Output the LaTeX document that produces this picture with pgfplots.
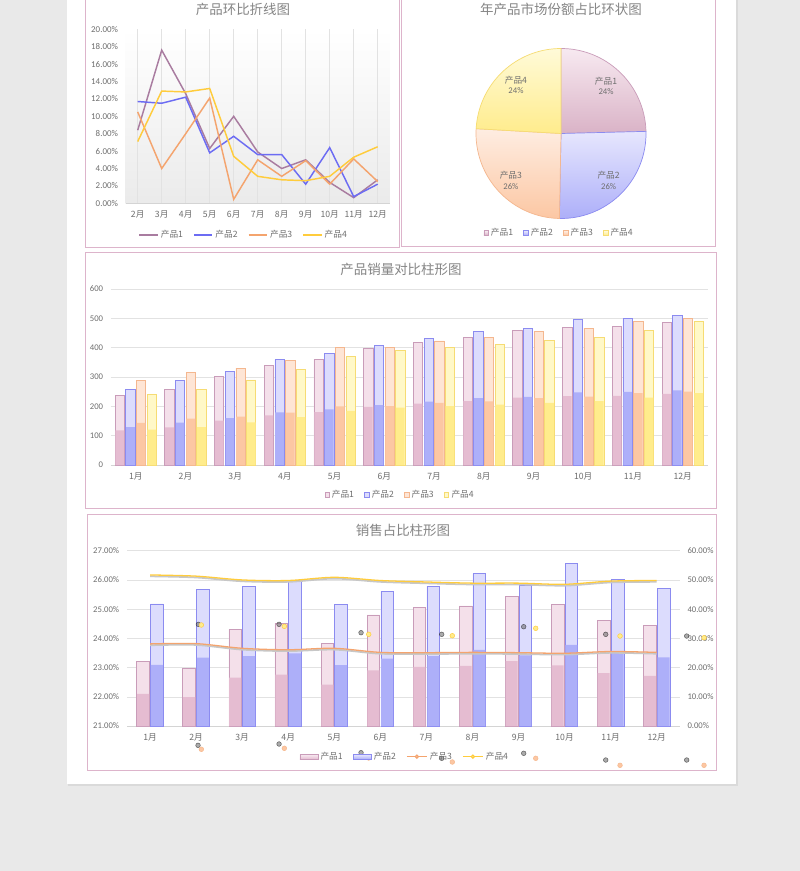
\documentclass[border=0pt]{standalone}
\usepackage{fontspec}
\setmainfont{Carlito}
\newfontfamily\cjk{Noto Sans CJK SC}
\usepackage{pgfplots}
\usepackage{pgfplotstable}
\pgfplotsset{compat=1.18}

\definecolor{pagebg}{HTML}{E9E9E9}
\definecolor{pageshadow}{HTML}{DADADA}
\definecolor{frame}{HTML}{DDB4CB}
\definecolor{titlegray}{HTML}{858585}
\definecolor{ticktext}{HTML}{6E6E6E}
\definecolor{gridgray}{HTML}{E2E2E2}
\definecolor{axisgray}{HTML}{D4D4D4}
% line colours
\definecolor{lnA}{HTML}{A97CA0}
\definecolor{lnB}{HTML}{6C6CF3}
\definecolor{lnC}{HTML}{F4A46E}
\definecolor{lnD}{HTML}{FFCC3C}
% bar / pie tones: edge, light, dark
\definecolor{edA}{HTML}{C99CB9}
\definecolor{ltA}{HTML}{F4E0EA}
\definecolor{dkA}{HTML}{E5BCD1}
\definecolor{edB}{HTML}{8B8BF0}
\definecolor{ltB}{HTML}{DCDCFD}
\definecolor{dkB}{HTML}{ADAFF9}
\definecolor{edC}{HTML}{F4B78F}
\definecolor{ltC}{HTML}{FEE5D5}
\definecolor{dkC}{HTML}{FCC7A3}
\definecolor{edD}{HTML}{F6DC73}
\definecolor{ltD}{HTML}{FFF8C8}
\definecolor{dkD}{HTML}{FFEC8C}

\newcommand\lbl{\fontsize{7.4}{8.8}\selectfont}
\newcommand\ttl{\cjk\fontsize{11.5}{13}\selectfont\color{titlegray}}

% month-on-month change, %
\pgfplotstableread{
m  p1    p2    p3    p4
2  8.4   11.7  10.5  7.1
3  17.6  11.5  4.0   12.9
4  12.6  12.2  8.0   12.8
5  6.3   5.8   12.1  13.2
6  10.0  7.7   0.46  5.4
7  5.9   5.6   5.0   3.1
8  4.0   5.6   3.1   2.7
9  5.0   2.2   4.9   2.6
10 2.4   6.4   2.2   3.1
11 0.65  0.77  5.1   5.3
12 2.7   2.2   2.5   6.5
}\ringdata

% monthly sales
\pgfplotstableread{
m  p1  p2  p3  p4
1  236 258 287 241
2  257 289 317 258
3  302 319 330 290
4  339 359 357 327
5  360 380 400 369
6  397 408 401 391
7  419 432 423 401
8  435 456 434 412
9  459 465 456 424
10 469 495 466 435
11 472 499 490 459
12 485 509 501 490
}\salesdata

% shares: p1,p2 on left axis, p3,p4 on right axis
\pgfplotstableread{
m  p1    p2    p3    p4
1  23.20 25.18 28.1  51.7
2  22.97 25.68 28.2  51.3
3  24.32 25.78 26.6  50.0
4  24.52 25.97 26.1  49.8
5  23.84 25.16 26.6  50.9
6  24.80 25.62 25.2  49.8
7  25.05 25.79 25.1  49.3
8  25.11 26.21 25.2  48.9
9  25.44 25.83 25.1  48.9
10 25.15 26.56 24.9  48.5
11 24.62 26.02 25.5  49.6
12 24.43 25.70 25.2  49.8
}\sharedata

\pgfplotsset{
  dash/.style={
    scale only axis,
    axis x line*=bottom, axis y line*=left,
    x axis line style={draw=axisgray,-},
    y axis line style={draw=none},
    major tick length=0pt,
    grid style={draw=gridgray, line width=0.5pt},
    tick label style={text=ticktext},
    xticklabel style={font=\cjk\lbl, yshift=-1.1mm},
    yticklabel style={font=\lbl, xshift=-1.1mm},
    /pgf/number format/assume math mode=true,
    legend style={draw=none, fill=none, legend columns=4,
      font=\cjk\lbl, text=ticktext,
      /tikz/every even column/.append style={column sep=2.4mm}},
  },
  months/.style={xtick={1,...,12},
    xticklabels={1月,2月,3月,4月,5月,6月,7月,8月,9月,10月,11月,12月}},
  sqlegend/.style={legend image code/.code={\draw[##1] (0mm,-0.65mm) rectangle (1.3mm,0.65mm);}},
}

\begin{document}
\begin{tikzpicture}
\clip (0,0) rectangle (240mm,-261.3mm);
\begin{scope}[x=0.3mm,y=-0.3mm]
  \fill[pagebg] (0,0) rectangle (800,871);
  \fill[pageshadow] (68,-5) rectangle (738,786);
  \fill[white] (67,-5) rectangle (736,784);
  \draw[frame, line width=0.3mm] (85,-5) rectangle (399.5,248);
  \draw[frame, line width=0.3mm] (401,-5) rectangle (715.5,247);
  \draw[frame, line width=0.3mm] (85.5,252.7) rectangle (716.7,508);
  \draw[frame, line width=0.3mm] (87.3,514) rectangle (716.7,770.7);
  \node[font=\ttl] at (243,9) {产品环比折线图};
  \node[font=\ttl] at (561,9) {年产品市场份额占比环状图};
  \node[font=\ttl] at (401,269) {产品销量对比柱形图};
  \node[font=\ttl] at (403,530.5) {销售占比柱形图};
\end{scope}

% ---------- line chart ----------
\begin{axis}[dash,
  at={(37.71mm,-60.99mm)}, anchor=south west,
  width=79.2mm, height=52.2mm,
  xmin=1.5, xmax=12.5, ymin=0, ymax=20,
  xtick={2,...,12},
  xticklabels={2月,3月,4月,5月,6月,7月,8月,9月,10月,11月,12月},
  ytick={0,2,...,20},
  yticklabel={\pgfmathprintnumber[fixed,fixed zerofill,precision=2]{\tick}\%},
  yticklabel style={font=\fontsize{7.6}{8.8}\selectfont},
  xmajorgrids,
  axis background/.style={top color=white, bottom color=black!8},
  legend style={at={(0.448,-0.182)}, anchor=center},
  legend image code/.code={\draw[#1] (0mm,0mm) -- (5.5mm,0mm);},
]
\addplot[lnA, line width=1.25pt] table[x=m,y=p1]{\ringdata};
\addplot[lnB, line width=1.25pt] table[x=m,y=p2]{\ringdata};
\addplot[lnC, line width=1.25pt] table[x=m,y=p3]{\ringdata};
\addplot[lnD, line width=1.25pt] table[x=m,y=p4]{\ringdata};
\legend{产品1,产品2,产品3,产品4}
\end{axis}

% ---------- pie ----------
\begin{axis}[
  at={(168.3mm,-40.05mm)}, anchor=center,
  scale only axis, width=51mm, height=51mm,
  xmin=-1, xmax=1, ymin=-1, ymax=1,
  hide axis, clip=false, sqlegend,
  legend style={at={(0.49,-0.085)}, anchor=center, draw=none, fill=none,
    legend columns=4, font=\cjk\lbl, text=ticktext,
    /tikz/every even column/.append style={column sep=2.4mm}},
]
\addplot[draw=edA, line width=0.6pt, top color=ltA!70!white, bottom color=dkA!95!black,
  domain=1.44:90, samples=45, variable=\t] ({cos(\t)},{sin(\t)}) -- (0,0) -- cycle;
\addplot[draw=edB, line width=0.6pt, top color=ltB!70!white, bottom color=dkB,
  domain=-91.08:1.44, samples=45, variable=\t] ({cos(\t)},{sin(\t)}) -- (0,0) -- cycle;
\addplot[draw=edC, line width=0.6pt, top color=ltC!70!white, bottom color=dkC,
  domain=-183.24:-91.08, samples=45, variable=\t] ({cos(\t)},{sin(\t)}) -- (0,0) -- cycle;
\addplot[draw=edD, line width=0.6pt, top color=ltD!70!white, bottom color=dkD,
  domain=-270:-183.24, samples=45, variable=\t] ({cos(\t)},{sin(\t)}) -- (0,0) -- cycle;
\node[align=center, font=\lbl, text=ticktext] at (0.53,0.56) {{\cjk 产品1}\\24\%};
\node[align=center, font=\lbl, text=ticktext] at (0.56,-0.55) {{\cjk 产品2}\\26\%};
\node[align=center, font=\lbl, text=ticktext] at (-0.59,-0.55) {{\cjk 产品3}\\26\%};
\node[align=center, font=\lbl, text=ticktext] at (-0.53,0.57) {{\cjk 产品4}\\24\%};
\legend{产品1,产品2,产品3,产品4}
\end{axis}

% ---------- sales bars ----------
\begin{axis}[dash, months, sqlegend,
  at={(33.27mm,-139.5mm)}, anchor=south west,
  width=178.98mm, height=52.8mm,
  xmin=0.5, xmax=12.5, ymin=0, ymax=600,
  ytick={0,100,...,600},
  ymajorgrids,
  legend style={at={(0.485,-0.17)}, anchor=center},
]
\addplot[ybar, bar width=2.79mm, bar shift=-4.8mm, draw=edA, fill=ltA, line width=0.6pt] table[x=m,y=p1]{\salesdata};
\addplot[ybar, bar width=2.6mm, bar shift=-4.8mm, draw=none, fill=dkA, forget plot] table[x=m,y expr=\thisrow{p1}/2]{\salesdata};
\addplot[ybar, bar width=2.79mm, bar shift=-1.6mm, draw=edB, fill=ltB, line width=0.6pt] table[x=m,y=p2]{\salesdata};
\addplot[ybar, bar width=2.6mm, bar shift=-1.6mm, draw=none, fill=dkB, forget plot] table[x=m,y expr=\thisrow{p2}/2]{\salesdata};
\addplot[ybar, bar width=2.79mm, bar shift=1.6mm, draw=edC, fill=ltC, line width=0.6pt] table[x=m,y=p3]{\salesdata};
\addplot[ybar, bar width=2.6mm, bar shift=1.6mm, draw=none, fill=dkC, forget plot] table[x=m,y expr=\thisrow{p3}/2]{\salesdata};
\addplot[ybar, bar width=2.79mm, bar shift=4.8mm, draw=edD, fill=ltD, line width=0.6pt] table[x=m,y=p4]{\salesdata};
\addplot[ybar, bar width=2.6mm, bar shift=4.8mm, draw=none, fill=dkD, forget plot] table[x=m,y expr=\thisrow{p4}/2]{\salesdata};
\legend{产品1,产品2,产品3,产品4}
\end{axis}

% ---------- share combo: bars on left axis ----------
\begin{axis}[dash, months,
  at={(38.1mm,-217.8mm)}, anchor=south west,
  width=165.81mm, height=52.59mm,
  xmin=0.5, xmax=12.5, ymin=21, ymax=27,
  ytick={21,...,27},
  yticklabel={\pgfmathprintnumber[fixed,fixed zerofill,precision=2]{\tick}\%},
  ymajorgrids,
]
\addplot[ybar, bar width=3.81mm, bar shift=-2.07mm, draw=edA, fill=ltA, line width=0.6pt] table[x=m,y=p1]{\sharedata};
\addplot[ybar, bar width=3.6mm, bar shift=-2.07mm, draw=none, fill=dkA] table[x=m,y expr=(\thisrow{p1}+21)/2]{\sharedata};
\addplot[ybar, bar width=3.81mm, bar shift=2.07mm, draw=edB, fill=ltB, line width=0.6pt] table[x=m,y=p2]{\sharedata};
\addplot[ybar, bar width=3.6mm, bar shift=2.07mm, draw=none, fill=dkB] table[x=m,y expr=(\thisrow{p2}+21)/2]{\sharedata};
\end{axis}

% ---------- share combo: lines on right axis ----------
\begin{axis}[
  at={(38.1mm,-217.8mm)}, anchor=south west,
  scale only axis, width=165.81mm, height=52.59mm,
  xmin=0.5, xmax=12.5, ymin=0, ymax=60,
  axis x line=none, axis y line*=right,
  y axis line style={draw=none},
  major tick length=0pt,
  ytick={0,10,...,60},
  yticklabel={\pgfmathprintnumber[fixed,fixed zerofill,precision=2]{\tick}\%},
  yticklabel style={font=\lbl, text=ticktext, xshift=1.1mm},
  /pgf/number format/assume math mode=true,
  clip=false,
  legend style={at={(0.503,-0.175)}, anchor=center, draw=none, fill=none,
    legend columns=4, font=\cjk\lbl, text=ticktext,
    /tikz/every even column/.append style={column sep=2.4mm}},
]
\addlegendimage{legend image code/.code={\draw[draw=edA, top color=ltA!60!white, bottom color=dkA] (0mm,-0.75mm) rectangle (5.4mm,0.75mm);}}
\addlegendimage{legend image code/.code={\draw[draw=edB, top color=ltB!60!white, bottom color=dkB] (0mm,-0.75mm) rectangle (5.4mm,0.75mm);}}
\addlegendimage{lnC, line width=1pt, mark=*, mark size=1.3pt, mark options={draw=lnC, fill=ltC}}
\addlegendimage{lnD, line width=1pt, mark=*, mark size=1.3pt, mark options={draw=lnD, fill=ltD}}
\addplot[smooth, black!22, line width=1.5pt, yshift=-0.4mm, forget plot] table[x=m,y=p3]{\sharedata};
\addplot[smooth, lnC, line width=1.1pt, forget plot] table[x=m,y=p3]{\sharedata};
\addplot[smooth, black!22, line width=1.5pt, yshift=-0.4mm, forget plot] table[x=m,y=p4]{\sharedata};
\addplot[smooth, lnD, line width=1.1pt, forget plot] table[x=m,y=p4]{\sharedata};
% stray markers as they show in the reference
\addplot[only marks, mark=*, mark size=2pt, mark options={draw=none, fill=black!60, opacity=0.55}, forget plot]
  coordinates {(2.049,34.80) (3.801,34.80) (5.581,31.93) (7.333,31.38) (9.113,33.98) (10.894,31.38) (12.652,30.80)
               (2.042,-6.61) (3.801,-6.16) (5.581,-9.14) (7.333,-11.05) (9.113,-9.34) (10.894,-11.64) (12.652,-11.64)};
\addplot[only marks, mark=*, mark size=2pt, mark options={draw=lnD, fill=dkD}, forget plot]
  coordinates {(2.114,34.57) (3.916,34.12) (5.748,31.38) (7.563,30.90) (9.374,33.44) (11.204,30.80) (13.028,30.22)};
\addplot[only marks, mark=*, mark size=2pt, mark options={draw=lnC!80, fill=dkC}, forget plot]
  coordinates {(2.114,-7.97) (3.916,-7.63) (5.748,-10.95) (7.563,-12.32) (9.374,-11.05) (11.204,-13.45) (13.028,-13.45)};
\legend{产品1,产品2,产品3,产品4}
\end{axis}
\end{tikzpicture}
\end{document}
